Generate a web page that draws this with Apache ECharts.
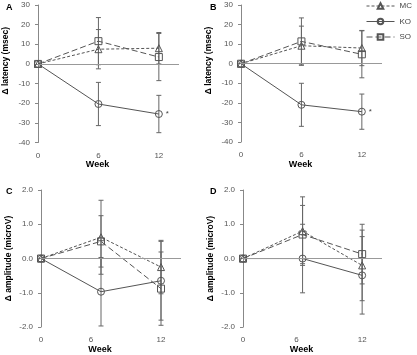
<!DOCTYPE html>
<html>
<head>
<meta charset="utf-8">
<script src="https://cdn.jsdelivr.net/npm/echarts@6/dist/echarts.min.js"></script>
<style>
  html, body { margin: 0; padding: 0; background: #fff; }
  #chart { width: 417px; height: 355px; }
</style>
</head>
<body>
<div id="chart"></div>
<script>
// weeks after baseline
const weeks = [0, 6, 12];

// panel A: latency (msec)
const latA_MC = [0, 7.5, 8];
const latA_KO = [0, -20.4, -25.5];
const latA_SO = [0, 11.6, 3.5];
const errA_MC = [0, 10, 8];
const errA_KO = [0, 11, 9.5];
const errA_SO = [0, 12, 12];

// panel B: latency (msec)
const latB_MC = [0, 9.2, 8];
const latB_KO = [0, -21, -24.5];
const latB_SO = [0, 11.4, 4.8];
const errB_MC = [0, 10, 9];
const errB_KO = [0, 11, 9];
const errB_SO = [0, 12, 12];

// panel C: amplitude (microV)
const ampC_MC = [0, 0.62, -0.25];
const ampC_KO = [0, -0.97, -0.65];
const ampC_SO = [0, 0.5, -0.88];
const errC_MC = [0, 1.08, 0.78];
const errC_KO = [0, 1.0, 1.15];
const errC_SO = [0, 0.75, 1.07];

// panel D: amplitude (microV)
const ampD_MC = [0, 0.8, -0.2];
const ampD_KO = [0, 0, -0.49];
const ampD_SO = [0, 0.7, 0.13];
const errD_MC = [0, 1.0, 1.03];
const errD_KO = [0, 1.0, 1.13];
const errD_SO = [0, 0.85, 0.87];

const groups = ["MC", "KO", "SO"];
const latTicks = { min: -40, max: 30, interval: 10 };
const ampTicks = { min: -2, max: 2, interval: 1 };

const LINE = "#555";
const AXIS = "#888";
const FONT = "Liberation Sans";

const panels = [
  { letter: "A", grid: { left: 38, top: 5, width: 141, height: 137.5 }, yName: "Δ latency (msec)", ticks: latTicks, dec: 0,
    vals: [latA_MC, latA_KO, latA_SO], errs: [errA_MC, errA_KO, errA_SO], star: true, sixPad: 0, yPad: 26 },
  { letter: "B", grid: { left: 241, top: 5, width: 141, height: 137 }, yName: "Δ latency (msec)", ticks: latTicks, dec: 0,
    vals: [latB_MC, latB_KO, latB_SO], errs: [errB_MC, errB_KO, errB_SO], star: true, sixPad: 0, yPad: 26 },
  { letter: "C", grid: { left: 41, top: 190, width: 140, height: 137 }, yName: "Δ amplitude (microV)", ticks: ampTicks, dec: 1,
    vals: [ampC_MC, ampC_KO, ampC_SO], errs: [errC_MC, errC_KO, errC_SO], star: false, sixPad: 20, yPad: 0 },
  { letter: "D", grid: { left: 243, top: 190, width: 139, height: 138 }, yName: "Δ amplitude (microV)", ticks: ampTicks, dec: 1,
    vals: [ampD_MC, ampD_KO, ampD_SO], errs: [errD_MC, errD_KO, errD_SO], star: false, sixPad: 12, yPad: 0 }
];

const symbols = { MC: "triangle", KO: "circle", SO: "rect" };
const dashes = { MC: [3, 2], KO: "solid", SO: [6, 3] };
const symSize = { MC: 7, KO: 7, SO: 7 };

const option = {
  animation: false,
  backgroundColor: "#fff",
  textStyle: { fontFamily: FONT },
  title: panels.map((p, i) => ({
    text: p.letter,
    left: i % 2 === 0 ? 1 : 205,
    top: i < 2 ? -2 : 182,
    textStyle: { fontSize: 9, fontWeight: "bold", color: "#000", fontFamily: FONT }
  })),
  legend: {
    data: groups,
    orient: "vertical",
    left: 364,
    top: 0,
    padding: 2,
    itemWidth: 28,
    itemHeight: 7,
    itemGap: 7.5,
    lineStyle: { width: 1 },
    textStyle: { fontSize: 8, color: "#444", fontFamily: FONT, overflow: "none" }
  },
  grid: panels.map(p => p.grid),
  xAxis: panels.map((p, i) => ({
    type: "value",
    gridIndex: i,
    min: 0,
    max: 14,
    interval: 6,
    name: "Week",
    nameLocation: "middle",
    nameGap: 16,
    nameTextStyle: { fontSize: 9, fontWeight: "bold", color: "#000", padding: [0, 22, 0, 0] },
    axisLine: { show: false },
    axisTick: { show: false },
    splitLine: { show: false },
    axisLabel: {
      fontSize: 8,
      color: "#555",
      margin: 9,
      formatter: v => (v % 6 !== 0 ? "" : (v === 6 && p.sixPad ? "{s|6}" : String(v))),
      rich: { s: { fontSize: 8, color: "#555", padding: [0, p.sixPad, 0, 0] } }
    }
  })),
  yAxis: panels.map((p, i) => ({
    type: "value",
    gridIndex: i,
    min: p.ticks.min,
    max: p.ticks.max,
    interval: p.ticks.interval,
    name: p.yName,
    nameLocation: "middle",
    nameGap: 28,
    nameTextStyle: { fontSize: 8.5, fontWeight: "bold", color: "#000", padding: [0, 0, 0, p.yPad] },
    axisLine: { show: true, lineStyle: { color: AXIS, width: 1 } },
    axisTick: { show: true, length: 3, lineStyle: { color: AXIS } },
    splitLine: { show: false },
    axisLabel: { fontSize: 8, color: "#555", margin: 8, formatter: v => v.toFixed(p.dec) }
  })),
  series: []
};

panels.forEach((p, i) => {
  // error bars
  const errData = [];
  groups.forEach((g, k) => {
    weeks.forEach((w, j) => {
      if (p.errs[k][j] > 0) {
        errData.push([w, p.vals[k][j] - p.errs[k][j], p.vals[k][j] + p.errs[k][j]]);
      }
    });
  });
  option.series.push({
    type: "custom",
    xAxisIndex: i,
    yAxisIndex: i,
    silent: true,
    z: 1,
    data: errData,
    renderItem: (params, api) => {
      const lo = api.coord([api.value(0), api.value(1)]);
      const hi = api.coord([api.value(0), api.value(2)]);
      const cap = 2.5;
      const st = { stroke: "#666", lineWidth: 1 };
      return {
        type: "group",
        children: [
          { type: "line", shape: { x1: lo[0], y1: lo[1], x2: hi[0], y2: hi[1] }, style: st },
          { type: "line", shape: { x1: lo[0] - cap, y1: lo[1], x2: lo[0] + cap, y2: lo[1] }, style: st },
          { type: "line", shape: { x1: hi[0] - cap, y1: hi[1], x2: hi[0] + cap, y2: hi[1] }, style: st }
        ]
      };
    }
  });

  groups.forEach((g, k) => {
    const data = weeks.map((w, j) => {
      if (g === "KO" && p.star && j === weeks.length - 1) {
        return {
          value: [w, p.vals[k][j]],
          label: { show: true, formatter: "*", position: "right", distance: 3, fontSize: 8, color: "#444" }
        };
      }
      return [w, p.vals[k][j]];
    });
    const s = {
      name: g,
      type: "line",
      xAxisIndex: i,
      yAxisIndex: i,
      z: 3,
      symbol: symbols[g],
      symbolSize: symSize[g],
      showSymbol: true,
      lineStyle: { color: LINE, width: 1, type: dashes[g] },
      itemStyle: { color: "rgba(0,0,0,0)", borderColor: LINE, borderWidth: 1 },
      emphasis: { disabled: true },
      data: data
    };
    if (g === "KO") {
      s.markLine = {
        silent: true,
        symbol: "none",
        label: { show: false },
        lineStyle: { color: "#999", type: "solid", width: 1 },
        data: [{ yAxis: 0 }]
      };
    }
    option.series.push(s);
  });
});

const chart = echarts.init(document.getElementById("chart"));
chart.setOption(option);
</script>
</body>
</html>
